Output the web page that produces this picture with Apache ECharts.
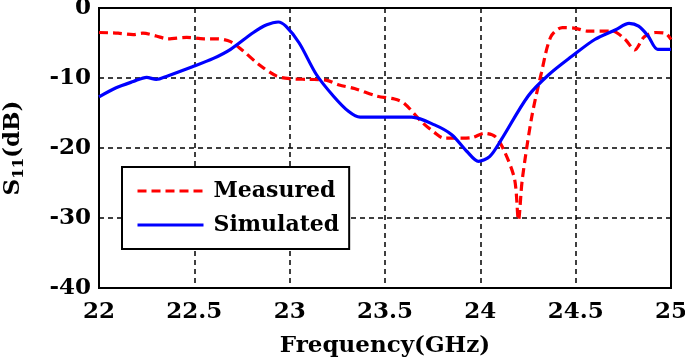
<!DOCTYPE html>
<html>
<head>
<meta charset="utf-8">
<script src="https://cdn.jsdelivr.net/npm/echarts@6/dist/echarts.min.js"></script>
<style>
html, body { margin: 0; padding: 0; background: #fff; }
#chart { width: 685px; height: 361px; }
</style>
</head>
<body>
<div id="chart"></div>
<script>
// measured S11
var measFreq = [22.00, 22.10, 22.18, 22.23, 22.30, 22.36, 22.46, 22.55, 22.62, 22.69, 22.75, 22.84, 22.93, 23.00,
    23.10, 23.19, 23.26, 23.34, 23.46, 23.55, 23.60, 23.69, 23.76, 23.81, 23.90, 23.96, 24.02, 24.08, 24.13,
    24.18, 24.20, 24.22, 24.27, 24.32, 24.37, 24.43, 24.50, 24.56, 24.69, 24.76, 24.81, 24.86, 24.92, 24.97, 25.00]
var measDb = [-3.5, -3.6, -3.8, -3.6, -4.0, -4.4, -4.2, -4.4, -4.4, -4.8, -6.0, -8.1, -9.7, -10.1,
    -10.2, -10.3, -11.0, -11.5, -12.6, -13.0, -13.6, -16.2, -17.8, -18.6, -18.6, -18.5, -17.9, -18.4, -20.7,
    -24.5, -30.3, -24.5, -15.5, -9.3, -4.1, -2.8, -2.9, -3.3, -3.3, -4.5, -6.0, -4.1, -3.5, -3.6, -4.5]

// simulated S11
var simFreq = [22.00, 22.09, 22.18, 22.25, 22.30, 22.36, 22.49, 22.60, 22.69, 22.81, 22.88, 22.94, 22.98, 23.05,
    23.14, 23.23, 23.31, 23.37, 23.64, 23.76, 23.85, 23.93, 23.99, 24.05, 24.11, 24.25, 24.36, 24.48, 24.60,
    24.71, 24.78, 24.83, 24.88, 24.93, 25.00]
var simDb = [-12.7, -11.4, -10.5, -9.9, -10.2, -9.7, -8.4, -7.2, -5.9, -3.5, -2.4, -2.0, -2.6, -5.0,
    -9.5, -12.6, -14.8, -15.6, -15.6, -16.7, -18.1, -20.5, -21.9, -21.2, -18.8, -12.6, -9.5, -6.9, -4.5,
    -3.1, -2.2, -2.6, -4.0, -5.9, -5.9]

var seriesNames = ['Measured', 'Simulated']

function zip(xs, ys) {
    var out = []
    xs.forEach(function(x, i) { out.push([x, ys[i]]) })
    return out
}

var font = 'DejaVu Serif'
var labelStyle = { fontFamily: font, fontWeight: 'bold', fontSize: 23, color: '#000' }

var option = {
    animation: false,
    backgroundColor: '#fff',
    grid: {
        left: 99,
        right: 14,
        top: 8,
        bottom: 73,
        outerBoundsMode: 'none', // keep the plot box where it is
        show: true,
        borderColor: '#000',
        borderWidth: 2
    },
    legend: {
        orient: 'vertical',
        left: 122,
        top: 167,
        data: seriesNames,
        backgroundColor: '#fff',
        borderColor: '#000',
        borderWidth: 2,
        padding: [12, 10, 12, 14],
        itemGap: 10,
        itemWidth: 66,
        itemHeight: 24,
        itemStyle: { opacity: 0 }, // hide the legend symbol, keep the line
        lineStyle: { width: 3 },
        textStyle: {
            fontFamily: font,
            fontWeight: 'bold',
            fontSize: 22,
            color: '#000',
            lineHeight: 24,
            padding: [0, 0, 0, 5]
        }
    },
    xAxis: {
        type: 'value',
        min: 22,
        max: 25,
        interval: 0.5,
        name: 'Frequency(GHz)',
        nameLocation: 'middle',
        nameGap: 47,
        nameTextStyle: { fontFamily: font, fontWeight: 'bold', fontSize: 23, color: '#000' },
        axisLine: { show: true, lineStyle: { color: '#000', width: 2 } },
        axisTick: { show: false },
        axisLabel: Object.assign({ margin: 13 }, labelStyle),
        splitLine: { show: true, lineStyle: { color: '#000', width: 1.5, type: [5, 4] } }
    },
    yAxis: {
        type: 'value',
        min: -40,
        max: 0,
        interval: 10,
        name: '{a|S}{b|11}{a|(dB)}',
        nameLocation: 'middle',
        nameGap: 72,
        nameTextStyle: {
            rich: {
                a: { fontFamily: font, fontWeight: 'bold', fontSize: 23, color: '#000' },
                b: { fontFamily: font, fontWeight: 'bold', fontSize: 15, color: '#000', padding: [12, 0, 0, 0] }
            }
        },
        axisLine: { show: true, lineStyle: { color: '#000', width: 2 } },
        axisTick: { show: false },
        axisLabel: Object.assign({ margin: 8 }, labelStyle),
        splitLine: { show: true, lineStyle: { color: '#000', width: 1.5, type: [5, 4] } }
    },
    series: [
        {
            name: seriesNames[0],
            type: 'line',
            data: zip(measFreq, measDb),
            showSymbol: false,
            symbol: 'none',
            smooth: 0.3,
            z: 3,
            itemStyle: { color: '#ff0000' },
            lineStyle: { color: '#ff0000', width: 3.2, type: [9, 5] }
        },
        {
            name: seriesNames[1],
            type: 'line',
            data: zip(simFreq, simDb),
            showSymbol: false,
            symbol: 'none',
            smooth: 0.3,
            z: 4,
            itemStyle: { color: '#0000ff' },
            lineStyle: { color: '#0000ff', width: 3.2 }
        }
    ]
}

var myChart = echarts.init(document.getElementById('chart'))
myChart.setOption(option)
</script>
</body>
</html>
